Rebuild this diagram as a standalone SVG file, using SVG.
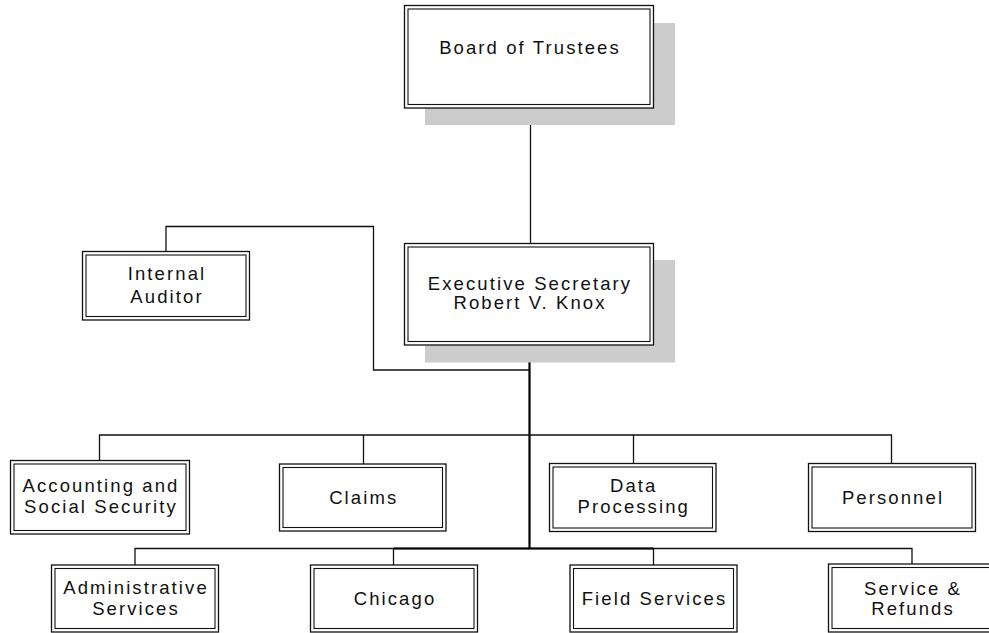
<svg xmlns="http://www.w3.org/2000/svg" width="989" height="633" viewBox="0 0 989 633">
<style>
.shadow{fill:#cccccc;stroke:none}
.outer{fill:#ffffff;stroke:#111;stroke-width:1.3}
.inner{fill:none;stroke:#111;stroke-width:1.1}
.line{fill:none;stroke:#111;stroke-width:1.3}
.thick{fill:none;stroke:#000;stroke-width:2.2}
text{font-family:"Liberation Sans",Arial,sans-serif;font-size:18.5px;letter-spacing:2.1px;fill:#111;text-anchor:middle}
</style>
<rect width="989" height="633" fill="#ffffff"/>
<g id="connectors">
<line class="line" x1="530.5" y1="108" x2="530.5" y2="243.5"/>
<path class="line" d="M166,251.5 V226.5 H373.5 V370 H529.5"/>
<line class="thick" x1="529.5" y1="345" x2="529.5" y2="548.5"/>
<path class="line" d="M99.5,460.5 V435 H891.5 V463.5"/>
<line class="line" x1="363.5" y1="435" x2="363.5" y2="464"/>
<line class="line" x1="633.5" y1="435" x2="633.5" y2="463.5"/>
<path class="line" d="M135,565 V548.5 H912 V564"/>
<line class="thick" x1="393.5" y1="548.5" x2="653.5" y2="548.5"/>
<line class="line" x1="393.5" y1="548.5" x2="393.5" y2="565"/>
<line class="line" x1="653.5" y1="548.5" x2="653.5" y2="565"/>
</g>
<g id="board">
<rect class="shadow" x="425" y="23" width="250" height="102"/>
<rect class="outer" x="404.5" y="5.5" width="249" height="102.5"/>
<rect class="inner" x="408" y="9" width="242" height="95.5"/>
<text x="530" y="54">Board of Trustees</text>
</g>
<g id="executive">
<rect class="shadow" x="425" y="260" width="250" height="102.5"/>
<rect class="outer" x="404.5" y="243.5" width="249" height="101.5"/>
<rect class="inner" x="408" y="247" width="242" height="94.5"/>
<text x="530" y="290">Executive Secretary</text>
<text x="530" y="309">Robert V. Knox</text>
</g>
<g id="auditor">
<rect class="outer" x="82.5" y="251.5" width="167" height="68.5"/>
<rect class="inner" x="86" y="255" width="160" height="61.5"/>
<text x="167" y="280.3">Internal</text>
<text x="167" y="302.5">Auditor</text>
</g>
<g id="accounting">
<rect class="outer" x="10.5" y="460.5" width="179" height="73.5"/>
<rect class="inner" x="14" y="464" width="172" height="66.5"/>
<text x="101" y="492">Accounting and</text>
<text x="101" y="513">Social Security</text>
</g>
<g id="claims">
<rect class="outer" x="279.5" y="464" width="166.5" height="67"/>
<rect class="inner" x="283" y="467.5" width="159.5" height="60"/>
<text x="363.7" y="503.5">Claims</text>
</g>
<g id="data">
<rect class="outer" x="549.5" y="463.5" width="166.5" height="68"/>
<rect class="inner" x="553" y="467" width="159.5" height="61"/>
<text x="633.7" y="492">Data</text>
<text x="633.7" y="513">Processing</text>
</g>
<g id="personnel">
<rect class="outer" x="808.5" y="463.5" width="167" height="68"/>
<rect class="inner" x="812" y="467" width="160" height="61"/>
<text x="893" y="503.5">Personnel</text>
</g>
<g id="admin">
<rect class="outer" x="51.5" y="565" width="167" height="67"/>
<rect class="inner" x="55" y="568.5" width="160" height="60"/>
<text x="136" y="594">Administrative</text>
<text x="136" y="615">Services</text>
</g>
<g id="chicago">
<rect class="outer" x="310.5" y="565" width="167" height="67"/>
<rect class="inner" x="314" y="568.5" width="160" height="60"/>
<text x="395" y="605">Chicago</text>
</g>
<g id="field">
<rect class="outer" x="570" y="565" width="167" height="67"/>
<rect class="inner" x="573.5" y="568.5" width="160" height="60"/>
<text x="654.5" y="605">Field Services</text>
</g>
<g id="service">
<rect class="outer" x="828.5" y="564" width="167" height="68"/>
<rect class="inner" x="832" y="567.5" width="160" height="61"/>
<text x="913" y="595">Service &amp;</text>
<text x="913" y="615">Refunds</text>
</g>
</svg>
